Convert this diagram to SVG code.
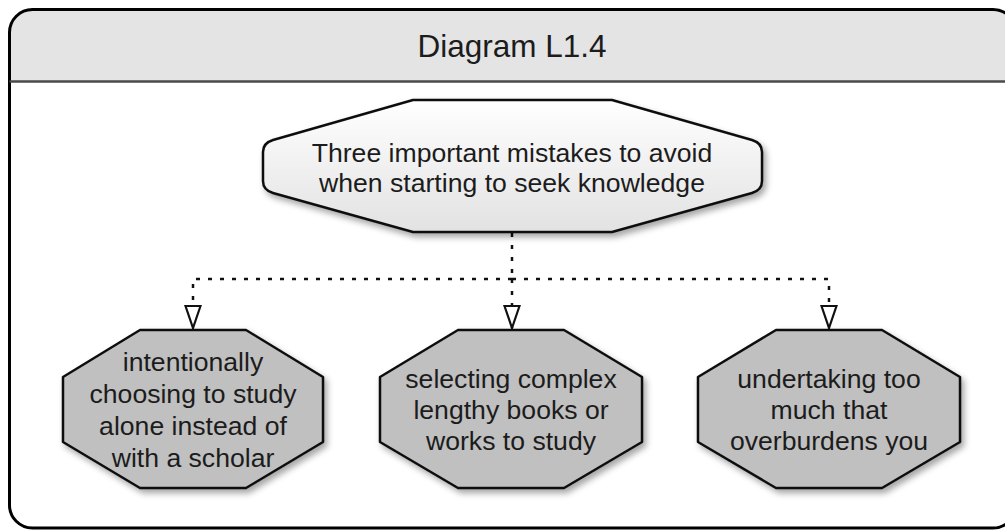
<svg xmlns="http://www.w3.org/2000/svg" width="1005" height="531" viewBox="0 0 1005 531">
  <style>
    .label { font-family: "Liberation Sans", Arial, sans-serif; font-size: 26.6px; fill: #1c1c1c; text-anchor: middle; }
    .title { font-family: "Liberation Sans", Arial, sans-serif; font-size: 31.5px; fill: #1c1c1c; text-anchor: middle; }
    .item { fill: #c0c0c0; stroke: #111; stroke-width: 2.5; stroke-linejoin: round; filter: url(#shadow); }
    .root { fill: url(#rootFill); stroke: #111; stroke-width: 2.5; stroke-linejoin: round; filter: url(#shadow); }
    .link { fill: none; stroke: #111; stroke-width: 2.5; stroke-dasharray: 4 8; }
  </style>
  <defs>
    <linearGradient id="rootFill" x1="0" y1="0" x2="0" y2="1">
      <stop offset="0" stop-color="#ffffff"/>
      <stop offset="1" stop-color="#e2e2e2"/>
    </linearGradient>
    <filter id="shadow" x="-10%" y="-10%" width="130%" height="130%">
      <feDropShadow dx="3" dy="4" stdDeviation="3" flood-color="#000" flood-opacity="0.35"/>
    </filter>
    <!-- hollow triangle head, drawn along +x so orient="auto" follows the line -->
    <marker id="openArrow" viewBox="0 0 25 18" refX="23.5" refY="9" markerWidth="25" markerHeight="18" markerUnits="userSpaceOnUse" orient="auto">
      <path d="M1.5,1.5 L23.5,9 L1.5,16.5 Z" fill="#fff" stroke="#111" stroke-width="2.2" stroke-linejoin="miter"/>
    </marker>
  </defs>

  <!-- outer frame with header band -->
  <g id="frame">
    <path d="M9.5,81.5 L9.5,33 Q9.5,9.5 33,9.5 L993,9.5 Q1016,9.5 1016,33 L1016,81.5 Z" fill="#e4e4e4"/>
    <rect x="9.5" y="9.5" width="1006.5" height="518.5" rx="23" ry="23" fill="none" stroke="#000" stroke-width="3"/>
    <line x1="9.5" y1="81.5" x2="1016" y2="81.5" stroke="#4a4a4a" stroke-width="2.5"/>
    <text class="title" x="512" y="57">Diagram L1.4</text>
  </g>

  <!-- dotted connectors from the main node to the three items -->
  <g id="connectors">
    <path class="link" d="M512,233 L512,279"/>
    <path class="link" d="M512,279 L193,279 L193,328" marker-end="url(#openArrow)"/>
    <path class="link" d="M512,279 L512,328" marker-end="url(#openArrow)"/>
    <path class="link" d="M512,279 L829,279 L829,328" marker-end="url(#openArrow)"/>
  </g>

  <g id="node-main">
    <path class="root" d="M413,100 L612,100 L752,140 Q762,143 762,152 L762,181 Q762,190 752,193 L612,232 L413,232 L273,193 Q263,190 263,181 L263,152 Q263,143 273,140 Z"/>
    <text class="label" x="512" y="162">Three important mistakes to avoid</text>
    <text class="label" x="512" y="192">when starting to seek knowledge</text>
  </g>

  <g id="node-alone">
    <polygon class="item" points="140,330 246,330 323,377 323,442 246,488 140,488 63,442 63,377"/>
    <text class="label" x="193" y="371">intentionally</text>
    <text class="label" x="193" y="403">choosing to study</text>
    <text class="label" x="193" y="435">alone instead of</text>
    <text class="label" x="193" y="467">with a scholar</text>
  </g>

  <g id="node-books">
    <polygon class="item" points="458,330 564,330 642,377 642,442 564,488 458,488 380,442 380,377"/>
    <text class="label" x="511" y="388">selecting complex</text>
    <text class="label" x="511" y="419">lengthy books or</text>
    <text class="label" x="511" y="450">works to study</text>
  </g>

  <g id="node-overburden">
    <polygon class="item" points="776,330 882,330 960,377 960,442 882,488 776,488 698,442 698,377"/>
    <text class="label" x="829" y="388">undertaking too</text>
    <text class="label" x="829" y="419">much that</text>
    <text class="label" x="829" y="450">overburdens you</text>
  </g>
</svg>
